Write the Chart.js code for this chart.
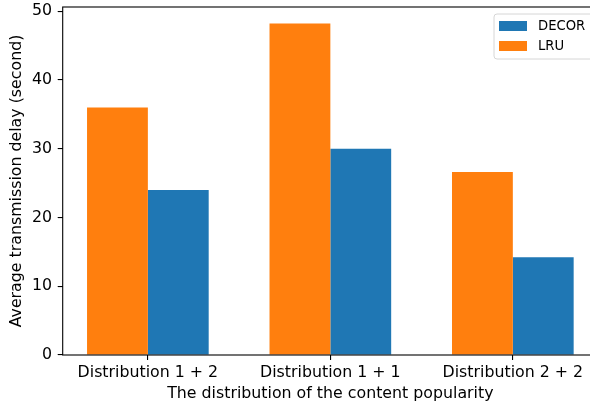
<!DOCTYPE html>
<html>
<head>
<meta charset="utf-8">
<script src="https://cdn.jsdelivr.net/npm/chart.js@4/dist/chart.umd.min.js"></script>
<style>
  html, body { margin: 0; padding: 0; overflow: hidden; background: #fff; }
  canvas { display: block; }
</style>
</head>
<body>
<canvas id="delayChart" width="600" height="407"></canvas>
<script>
// categories and average delay per cache policy (seconds)
var categories = ['Distribution 1 + 2', 'Distribution 1 + 1', 'Distribution 2 + 2'];
var lruDelay = [36.0, 48.2, 26.6];
var decorDelay = [24.0, 30.0, 14.2];
var yTicks = [0, 10, 20, 30, 40, 50];

var blue = '#1f77b4';
var orange = '#ff7f0e';

Chart.defaults.font.family = 'DejaVu Sans';
Chart.defaults.font.size = 15.8;
Chart.defaults.color = '#000';

// matplotlib-like frame around the plot area
var framePlugin = {
    id: 'frame',
    afterDatasetsDraw: function (chart) {
        var a = chart.chartArea, ctx = chart.ctx;
        ctx.save();
        ctx.strokeStyle = '#000';
        ctx.lineWidth = 1.1;
        ctx.strokeRect(a.left, a.top, a.right - a.left, a.bottom - a.top);
        ctx.restore();
    }
};

// legend box in the upper right corner (DECOR listed first)
var legendPlugin = {
    id: 'boxLegend',
    afterDraw: function (chart) {
        var ctx = chart.ctx;
        var items = [chart.data.datasets[1], chart.data.datasets[0]];
        var x = 494, y = 14, w = 120, h = 45, r = 3;
        ctx.save();
        ctx.beginPath();
        ctx.moveTo(x + r, y);
        ctx.lineTo(x + w - r, y);
        ctx.arcTo(x + w, y, x + w, y + r, r);
        ctx.lineTo(x + w, y + h - r);
        ctx.arcTo(x + w, y + h, x + w - r, y + h, r);
        ctx.lineTo(x + r, y + h);
        ctx.arcTo(x, y + h, x, y + h - r, r);
        ctx.lineTo(x, y + r);
        ctx.arcTo(x, y, x + r, y, r);
        ctx.closePath();
        ctx.fillStyle = 'rgba(255,255,255,0.8)';
        ctx.fill();
        ctx.strokeStyle = '#d6d6d6';
        ctx.lineWidth = 1;
        ctx.stroke();
        ctx.font = '13.2px "DejaVu Sans"';
        ctx.textBaseline = 'middle';
        items.forEach(function (ds, i) {
            var cy = 26 + i * 20;
            ctx.fillStyle = ds.backgroundColor;
            ctx.fillRect(499, cy - 5, 28, 10);
            ctx.fillStyle = '#000';
            ctx.fillText(ds.label, 538, cy + 0.5);
        });
        ctx.restore();
    }
};

function toPoints(values) {
    return values.map(function (v, i) { return { x: i, y: v }; });
}

var chart = new Chart(document.getElementById('delayChart'), {
    type: 'bar',
    data: {
        datasets: [{
            label: 'LRU',
            data: toPoints(lruDelay),
            backgroundColor: orange
        }, {
            label: 'DECOR',
            data: toPoints(decorDelay),
            backgroundColor: blue
        }]
    },
    options: {
        responsive: false,
        animation: false,
        devicePixelRatio: 1,
        layout: { padding: { top: 7, right: 2, left: 0, bottom: 0 } },
        datasets: {
            bar: { barPercentage: 1, categoryPercentage: 2 / 3, borderWidth: 0 }
        },
        plugins: {
            legend: { display: false },
            tooltip: { enabled: false }
        },
        scales: {
            x: {
                type: 'linear',
                offset: false,
                min: -0.4667,
                max: 2.4667,
                afterBuildTicks: function (s) {
                    s.ticks = categories.map(function (c, i) { return { value: i }; });
                },
                afterFit: function (s) {
                    s.height = 52;
                    s.paddingLeft = 0;
                    s.paddingRight = 0;
                },
                border: { display: false },
                grid: { offset: false, drawOnChartArea: false, tickLength: 5, color: '#000', lineWidth: 1.1 },
                ticks: {
                    padding: 3.5,
                    maxRotation: 0,
                    autoSkip: false,
                    callback: function (v) { return categories[v]; }
                },
                title: {
                    display: true,
                    text: 'The distribution of the content popularity',
                    padding: { top: 0, bottom: 3.5 }
                }
            },
            y: {
                min: 0,
                max: 50.6,
                afterBuildTicks: function (s) {
                    s.ticks = yTicks.map(function (v) { return { value: v }; });
                },
                afterFit: function (s) {
                    s.width = 62.7;
                    s.paddingTop = 0;
                    s.paddingBottom = 0;
                },
                border: { display: false },
                grid: { drawOnChartArea: false, tickLength: 5, color: '#000', lineWidth: 1.1 },
                ticks: { padding: 5.7 },
                title: {
                    display: true,
                    text: 'Average transmission delay (second)',
                    padding: { top: 7, bottom: 0 }
                }
            }
        }
    },
    plugins: [framePlugin, legendPlugin]
});
</script>
</body>
</html>
